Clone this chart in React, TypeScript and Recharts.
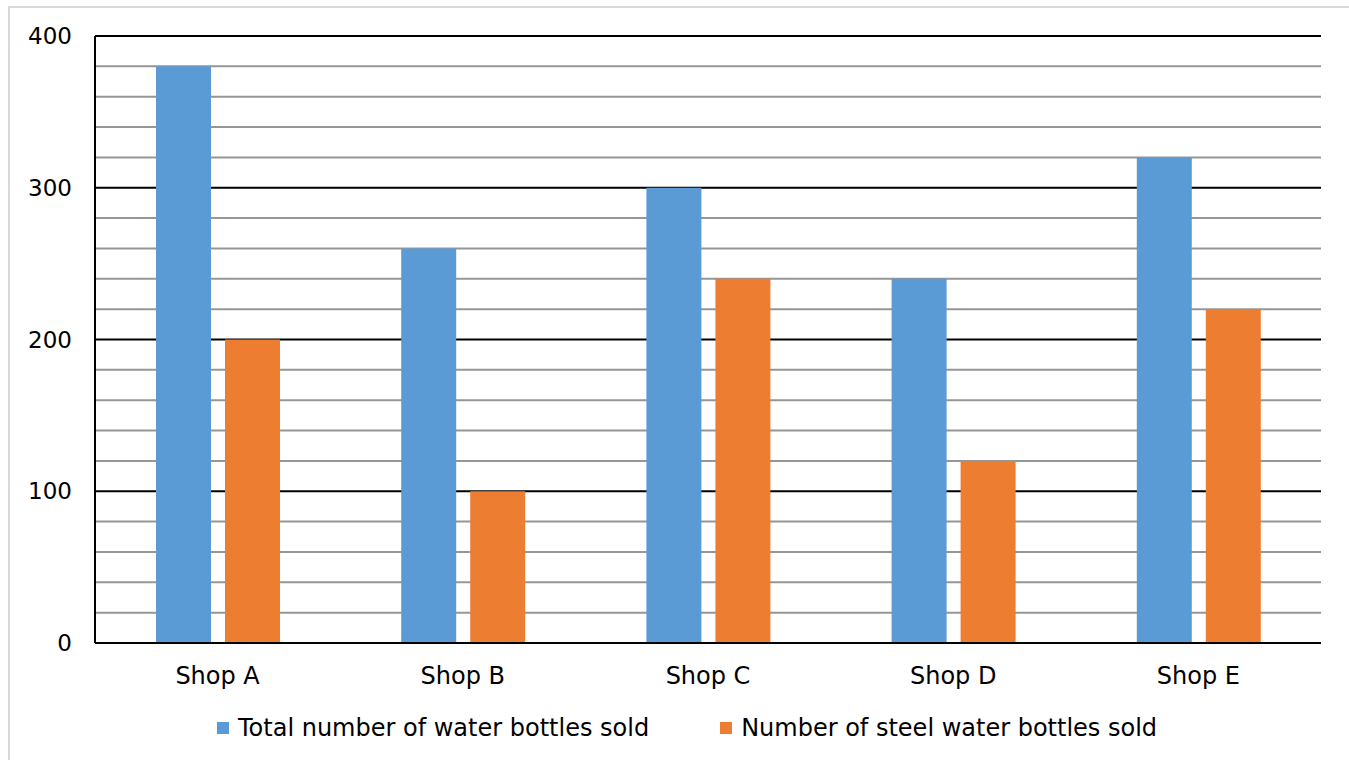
import { BarChart, Bar, XAxis, YAxis, CartesianGrid, Legend } from 'recharts';

const shops = ['Shop A', 'Shop B', 'Shop C', 'Shop D', 'Shop E'];
const totalSold = [380, 260, 300, 240, 320];
const steelSold = [200, 100, 240, 120, 220];
const seriesNames = ['Total number of water bottles sold', 'Number of steel water bottles sold'];
const seriesColors = ['#5b9bd5', '#ed7d31'];
const majorTicks = [0, 100, 200, 300, 400];
const gridTicks = [
  0, 20, 40, 60, 80, 100, 120, 140, 160, 180, 200, 220, 240, 260, 280, 300, 320, 340, 360, 380, 400,
];

const data = shops.map((shop, i) => ({
  shop,
  total: totalSold[i],
  steel: steelSold[i],
}));

const font = '"DejaVu Sans", Verdana, sans-serif';

function LegendContent() {
  return (
    <div
      style={{
        height: 67,
        display: 'flex',
        alignItems: 'center',
        paddingTop: 3,
        paddingLeft: 207,
        boxSizing: 'border-box',
        fontFamily: font,
        fontSize: 24,
        color: '#000',
      }}
    >
      {seriesNames.map((name, i) => (
        <div
          key={name}
          style={{ display: 'flex', alignItems: 'center', marginRight: i === 0 ? 71 : 0 }}
        >
          <span style={{ width: 12, height: 12, background: seriesColors[i], marginRight: 9 }} />
          <span>{name}</span>
        </div>
      ))}
    </div>
  );
}

// black line on every 100, grey line on the 20s in between
function gridLine(props: any) {
  const major = majorTicks.includes(gridTicks[props.index]);
  return (
    <line
      key={props.key}
      x1={props.x1}
      x2={props.x2}
      y1={props.y1}
      y2={props.y2}
      stroke={major ? '#000' : '#969696'}
      strokeWidth={2}
    />
  );
}

export default function App() {
  return (
    <div
      style={{
        position: 'absolute',
        left: 8,
        top: 6,
        width: 1341,
        height: 754,
        borderTop: '2px solid #d9d9d9',
        borderLeft: '2px solid #d9d9d9',
        background: '#fff',
      }}
    >
      <BarChart
        width={1339}
        height={752}
        data={data}
        margin={{ top: 28, right: 28, bottom: 0, left: 0 }}
        barSize={55}
        barGap={14}
      >
        <CartesianGrid vertical={false} horizontal={gridLine} />
        <XAxis
          dataKey="shop"
          height={50}
          tickLine={false}
          tickSize={0}
          tickMargin={24}
          axisLine={{ stroke: '#000', strokeWidth: 2 }}
          tick={{ fontSize: 24, fill: '#000', fontFamily: font }}
        />
        <YAxis
          width={85}
          domain={[0, 400]}
          ticks={gridTicks}
          interval={0}
          tickFormatter={(v: number) => (majorTicks.includes(v) ? String(v) : '')}
          tickLine={false}
          tickSize={0}
          tickMargin={23}
          axisLine={{ stroke: '#000', strokeWidth: 2 }}
          tick={{ fontSize: 23, fill: '#000', fontFamily: font }}
        />
        <Legend verticalAlign="bottom" height={67} content={<LegendContent />} />
        <Bar dataKey="total" name={seriesNames[0]} fill={seriesColors[0]} isAnimationActive={false} />
        <Bar dataKey="steel" name={seriesNames[1]} fill={seriesColors[1]} isAnimationActive={false} />
      </BarChart>
    </div>
  );
}
